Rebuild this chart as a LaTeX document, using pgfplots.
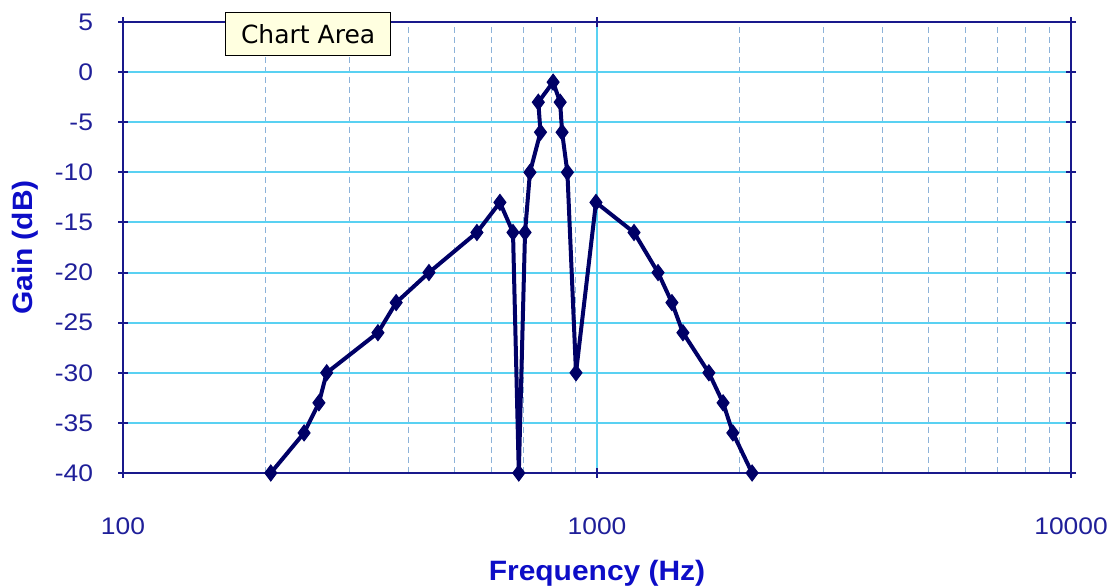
\documentclass[border=0pt]{standalone}
\usepackage{pgfplots}
\pgfplotsset{compat=1.18}
\usepackage{fontspec}
\setmainfont{Liberation Sans}
\newfontfamily\tickfont[FakeStretch=1.1]{Liberation Sans}
\newfontfamily\labfont[FakeStretch=1.07]{Liberation Sans}
\newfontfamily\tipfont{DejaVu Sans}
\definecolor{navyline}{rgb}{0.0,0.0,0.40}
\definecolor{axisnavy}{rgb}{0.1,0.1,0.55}
\definecolor{ticklab}{rgb}{0.12,0.12,0.6}
\definecolor{lablue}{rgb}{0.05,0.05,0.78}
\definecolor{gridcyan}{rgb}{0.35,0.82,0.95}
\definecolor{minorgrid}{rgb}{0.55,0.7,0.85}
\definecolor{tipfill}{rgb}{1,1,0.88}
\begin{document}
\begin{tikzpicture}
\path[use as bounding box] (-61.5pt,-57.5pt) rectangle (494.5pt,236.5pt);
\begin{axis}[
  at={(0,0)}, anchor=south west,
  scale only axis,
  width=474pt, height=225.5pt,
  xmode=log, log basis x=10,
  xmin=100, xmax=10000,
  ymin=-40, ymax=5,
  xtick={100,1000,10000},
  xticklabels={100,1000,10000},
  minor xtick={200,300,400,500,600,700,800,900,2000,3000,4000,5000,6000,7000,8000,9000},
  ytick={-40,-35,-30,-25,-20,-15,-10,-5,0,5},
  grid=both,
  major grid style={gridcyan, line width=1pt},
  minor grid style={minorgrid, line width=0.5pt, dash pattern=on 3pt off 2pt},
  axis line style={axisnavy, line width=1pt},
  tick style={axisnavy, line width=1pt},
  tick align=center,
  major tick length=5pt,
  minor tick length=0pt,
  /pgf/number format/assume math mode=true,
  ticklabel style={font=\tickfont\fontsize{12}{14}\selectfont, text=ticklab},
  xticklabel style={anchor=center, yshift=-24pt},
  yticklabel style={anchor=east, xshift=-9pt},
  xlabel={Frequency (Hz)},
  ylabel={Gain (dB)},
  label style={font=\labfont\fontsize{14}{16}\selectfont\bfseries, text=lablue},
  xlabel style={at={(axis description cs:0.5,0)}, anchor=center, yshift=-50pt},
  ylabel style={at={(axis description cs:0,0.5)}, anchor=center, xshift=0pt, yshift=49pt},
  clip=false,
]
\addplot[navyline, line width=2pt, mark=diamond*, mark size=4pt,
  mark options={fill=navyline, draw=navyline, line width=0.5pt}] coordinates {
  (205,-40) (241,-36) (259,-33) (269,-30) (345,-26) (377,-23) (442,-20)
  (558,-16) (624,-13) (665,-16) (684,-40) (705,-16) (722,-10) (760,-6)
  (752,-3) (808,-1) (836,-3) (844,-6) (866,-10) (903,-30) (995,-13)
  (1197,-16) (1345,-20) (1439,-23) (1518,-26) (1722,-30) (1845,-33)
  (1935,-36) (2124,-40)
};
\node[anchor=north west, draw=black, line width=0.6pt, fill=tipfill,
  minimum width=82.5pt, minimum height=21.5pt, inner sep=2pt,
  font=\tipfont\fontsize{12.5}{14}\selectfont]
  at (axis description cs:0.1076,1.022) {Chart Area};
\end{axis}
\end{tikzpicture}
\end{document}
